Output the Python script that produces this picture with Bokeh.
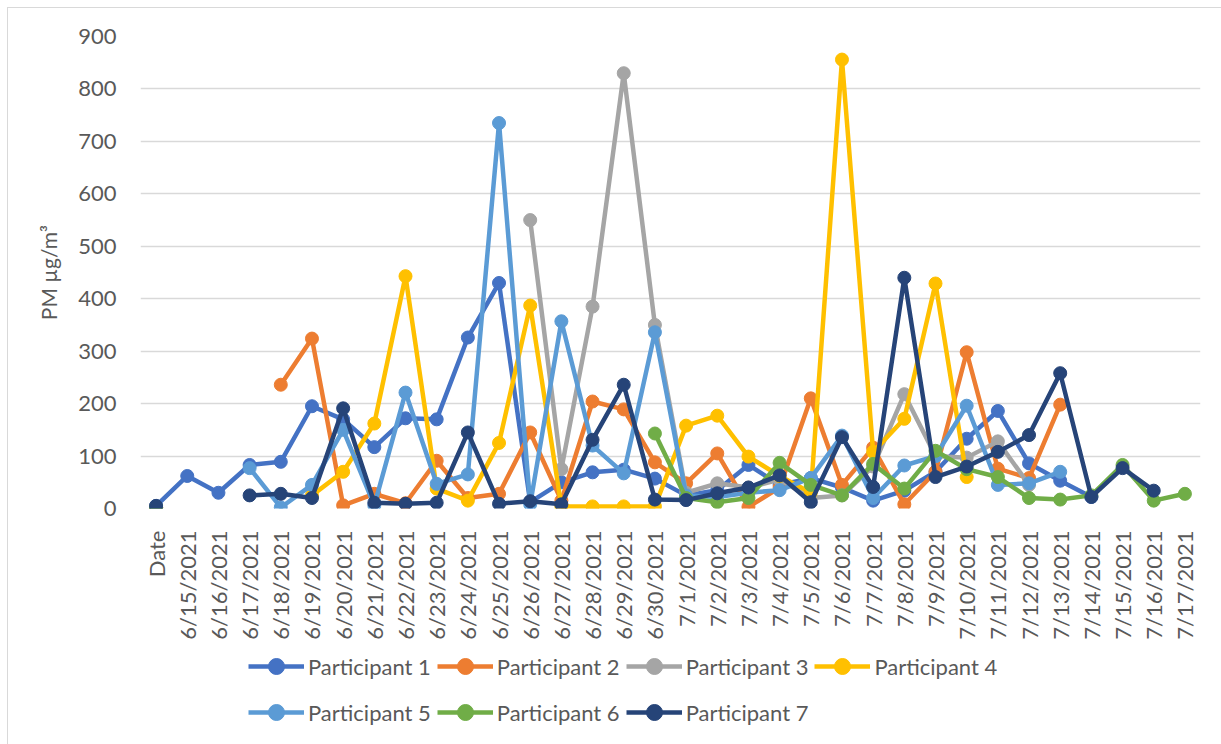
import math
import numpy as np
from bokeh.plotting import figure
from bokeh.layouts import column
from bokeh.models import (FactorRange, Range1d, FixedTicker, Legend, LegendItem,
                          ColumnDataSource)
from bokeh.embed import file_html
from bokeh.resources import INLINE

N = None
categories = (["Date"] + [f"6/{d}/2021" for d in range(15, 31)]
              + [f"7/{d}/2021" for d in range(1, 18)])

p1 = [5, 62, 30, 83, 89, 195, 170, 117, 172, 170, 326, 430, 12, 50, 69, 74, 57,
      25, 35, 83, 45, 58, 40, 15, 34, 70, 133, 186, 86, 53, 22, N, N, N]
p2 = [2, N, N, N, 236, 324, 6, 28, 10, 91, 20, 28, 145, 15, 204, 189, 88,
      48, 105, 3, 40, 210, 45, 116, 8, 70, 298, 76, 58, 198, N, N, N, N]
p3 = [2, N, N, N, N, N, N, N, N, N, N, N, 550, 75, 385, 830, 350,
      30, 48, 40, 55, 20, 25, 80, 218, 100, 97, 128, 45, N, N, N, N, N]
p4 = [2, N, N, N, N, 25, 70, 162, 443, 38, 15, 125, 387, 4, 4, 4, 4,
      158, 177, 99, 62, 30, 856, 108, 171, 429, 60, N, N, N, N, N, N, N]
p5 = [2, N, N, 77, 2, 45, 150, 6, 221, 47, 65, 735, 8, 357, 120, 67, 336,
      25, 22, 30, 35, 58, 139, 20, 82, 100, 196, 45, 48, 70, N, N, N, N]
p6 = [2, N, N, N, N, N, N, N, N, N, N, N, N, N, N, N, 143,
      20, 12, 20, 87, 45, 25, 85, 38, 110, 75, 60, 20, 17, 25, 83, 15, 28]
p7 = [5, N, N, 25, 28, 20, 191, 11, 9, 11, 145, 9, 14, 8, 131, 236, 17,
      16, 29, 40, 63, 12, 136, 41, 440, 60, 80, 108, 140, 258, 22, 77, 34, N]

series_names = ["Participant 1", "Participant 2", "Participant 3", "Participant 4",
                "Participant 5", "Participant 6", "Participant 7"]
series_values = [p1, p2, p3, p4, p5, p6, p7]
colors = ["#4472C4", "#ED7D31", "#A5A5A5", "#FFC000", "#5B9BD5", "#70AD47", "#264478"]
y_ticks = list(range(0, 1000, 100))

FONT = "Lato"
TXT = "#595959"
LINE_W = 4.5
MARK = 13

# ---------------- main chart ----------------
p = figure(x_range=FactorRange(factors=categories, range_padding=0),
           y_range=Range1d(0, 900),
           width=1213, height=635,
           min_border_left=132, min_border_right=21,
           min_border_top=28, min_border_bottom=135,
           output_backend="svg", toolbar_location=None)
p.outline_line_color = None
p.background_fill_color = "white"
p.border_fill_color = "white"

p.xgrid.grid_line_color = None
p.ygrid.grid_line_color = "#d9d9d9"
p.ygrid.grid_line_width = 1.5
p.yaxis.ticker = FixedTicker(ticks=y_ticks)

for ax in (p.xaxis[0], p.yaxis[0]):
    ax.axis_line_color = None
    ax.major_tick_line_color = None
    ax.minor_tick_line_color = None
    ax.major_label_text_font = FONT
    ax.major_label_text_color = TXT
    ax.major_label_text_font_size = "22px"

p.xaxis.major_label_orientation = math.pi / 2
p.xaxis.major_label_standoff = 16
p.yaxis.major_label_standoff = 18
p.yaxis.axis_label = "PM µg/m³"
p.yaxis.axis_label_text_font = FONT
p.yaxis.axis_label_text_font_style = "normal"
p.yaxis.axis_label_text_font_size = "21px"
p.yaxis.axis_label_text_color = TXT
p.yaxis.axis_label_standoff = 14

for name, vals, col in zip(series_names, series_values, colors):
    y = np.array([np.nan if v is None else v for v in vals], dtype=float)
    src = ColumnDataSource(dict(x=categories, y=y))
    p.line("x", "y", source=src, line_color=col, line_width=LINE_W)
    p.scatter("x", "y", source=src, size=MARK, fill_color=col, line_color=col)

# ---------------- legend strip ----------------
lg = figure(width=1213, height=101, x_range=Range1d(0, 1), y_range=Range1d(0, 1),
            x_axis_type=None, y_axis_type=None, min_border=0,
            output_backend="svg", toolbar_location=None)
lg.outline_line_color = None
lg.grid.visible = False
lg.background_fill_color = "white"
lg.border_fill_color = "white"

items = []
for name, col in zip(series_names, colors):
    src = ColumnDataSource(dict(x=[0.5], y=[np.nan]))
    ln = lg.line("x", "y", source=src, line_color=col, line_width=LINE_W)
    sc = lg.scatter("x", "y", source=src, size=MARK, fill_color=col, line_color=col)
    items.append(LegendItem(label=name, renderers=[ln, sc]))

legend = Legend(items=items, orientation="horizontal", ncols=4,
                location=(108, 12),
                glyph_width=56, glyph_height=40, label_standoff=4, spacing=6,
                label_text_font=FONT, label_text_font_size="22px",
                label_text_color=TXT, padding=0, margin=0,
                border_line_color=None, background_fill_alpha=0)
lg.add_layout(legend, "center")

layout = column(p, lg, spacing=0)
layout.styles = {"margin-left": "8px", "margin-top": "8px",
                 "outline": "1px solid #d9d9d9"}

open("out.html", "w").write(file_html(layout, INLINE))
